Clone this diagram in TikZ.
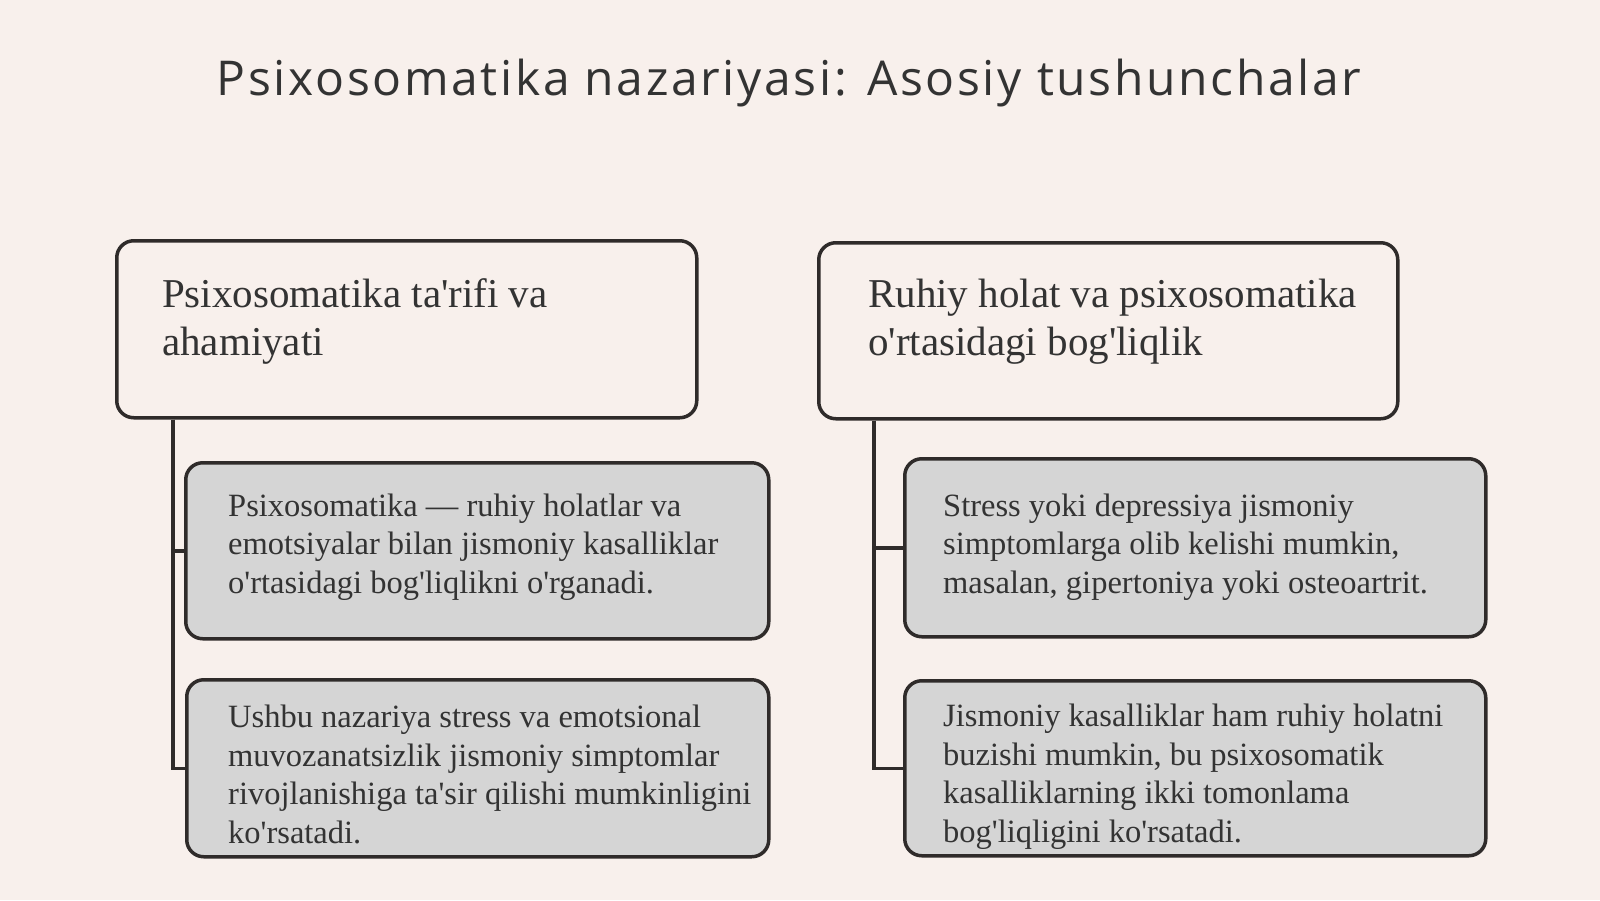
\documentclass[tikz,border=0pt]{standalone}
\usepackage{fontspec}
\setmainfont{Liberation Serif}[Ligatures=TeXOff]
\newfontfamily\titlefont{Open Sans}[LetterSpace=5.5]
\usetikzlibrary{calc}
\definecolor{bg}{HTML}{F8F0EC}
\definecolor{ink}{HTML}{333333}
\definecolor{edge}{HTML}{2F2B2A}
\definecolor{card}{HTML}{D5D5D5}
\begin{document}
\begin{tikzpicture}[x=1pt,y=-1pt,
  topbox/.style={draw=edge, line width=3.5pt, rounded corners=17pt, fill=bg, anchor=north west, inner sep=0pt},
  childbox/.style={draw=edge, line width=3.5pt, rounded corners=17pt, fill=card, anchor=north west, inner sep=0pt},
  link/.style={draw=edge, line width=3.5pt},
  headtext/.style={anchor=base west, align=left, text=ink, font=\fontsize{41}{48}\selectfont, inner sep=0pt},
  bodytext/.style={anchor=base west, align=left, text=ink, font=\fontsize{32.5}{38.5}\selectfont, inner sep=0pt},
  titletext/.style={anchor=base, text=ink, font=\titlefont\fontsize{48}{56}\selectfont, inner sep=0pt}]
\fill[bg] (0,0) rectangle (1600,900);
\useasboundingbox (0,0) rectangle (1600,900);

\node[titletext] (title) at (789,95) {Psixosomatika nazariyasi: Asosiy tushunchalar};

\node[topbox, minimum width=580pt, minimum height=177pt] (A) at (115,239) {};
\node[topbox, minimum width=579pt, minimum height=176pt] (B) at (817,241) {};
\node[childbox, minimum width=583pt, minimum height=176pt] (A1) at (184,461) {};
\node[childbox, minimum width=582pt, minimum height=177pt] (A2) at (185,678) {};
\node[childbox, minimum width=581pt, minimum height=178pt] (B1) at (903,457) {};
\node[childbox, minimum width=581pt, minimum height=175pt] (B2) at (903,679) {};

\coordinate (ta) at ($(A.south west)+(58,0)$);
\coordinate (tb) at ($(B.south west)+(57,0)$);
\draw[link] (ta) |- (A1.west);
\draw[link] (ta) |- (A2.west);
\draw[link] (tb) |- (B1.west);
\draw[link] (tb) |- (B2.west);

% anchors are the baseline of the last line
\node[headtext] (At) at (162,355) {Psixosomatika ta'rifi va\\ahamiyati};
\node[headtext] (Bt) at (868,355) {Ruhiy holat va psixosomatika\\o'rtasidagi bog'liqlik};
\node[bodytext] (A1t) at (228,593) {Psixosomatika — ruhiy holatlar va\\emotsiyalar bilan jismoniy kasalliklar\\o'rtasidagi bog'liqlikni o'rganadi.};
\node[bodytext] (A2t) at (228,843) {Ushbu nazariya stress va emotsional\\muvozanatsizlik jismoniy simptomlar\\rivojlanishiga ta'sir qilishi mumkinligini\\ko'rsatadi.};
\node[bodytext] (B1t) at (943,593) {Stress yoki depressiya jismoniy\\simptomlarga olib kelishi mumkin,\\masalan, gipertoniya yoki osteoartrit.};
\node[bodytext] (B2t) at (943,842) {Jismoniy kasalliklar ham ruhiy holatni\\buzishi mumkin, bu psixosomatik\\kasalliklarning ikki tomonlama\\bog'liqligini ko'rsatadi.};
\end{tikzpicture}
\end{document}
